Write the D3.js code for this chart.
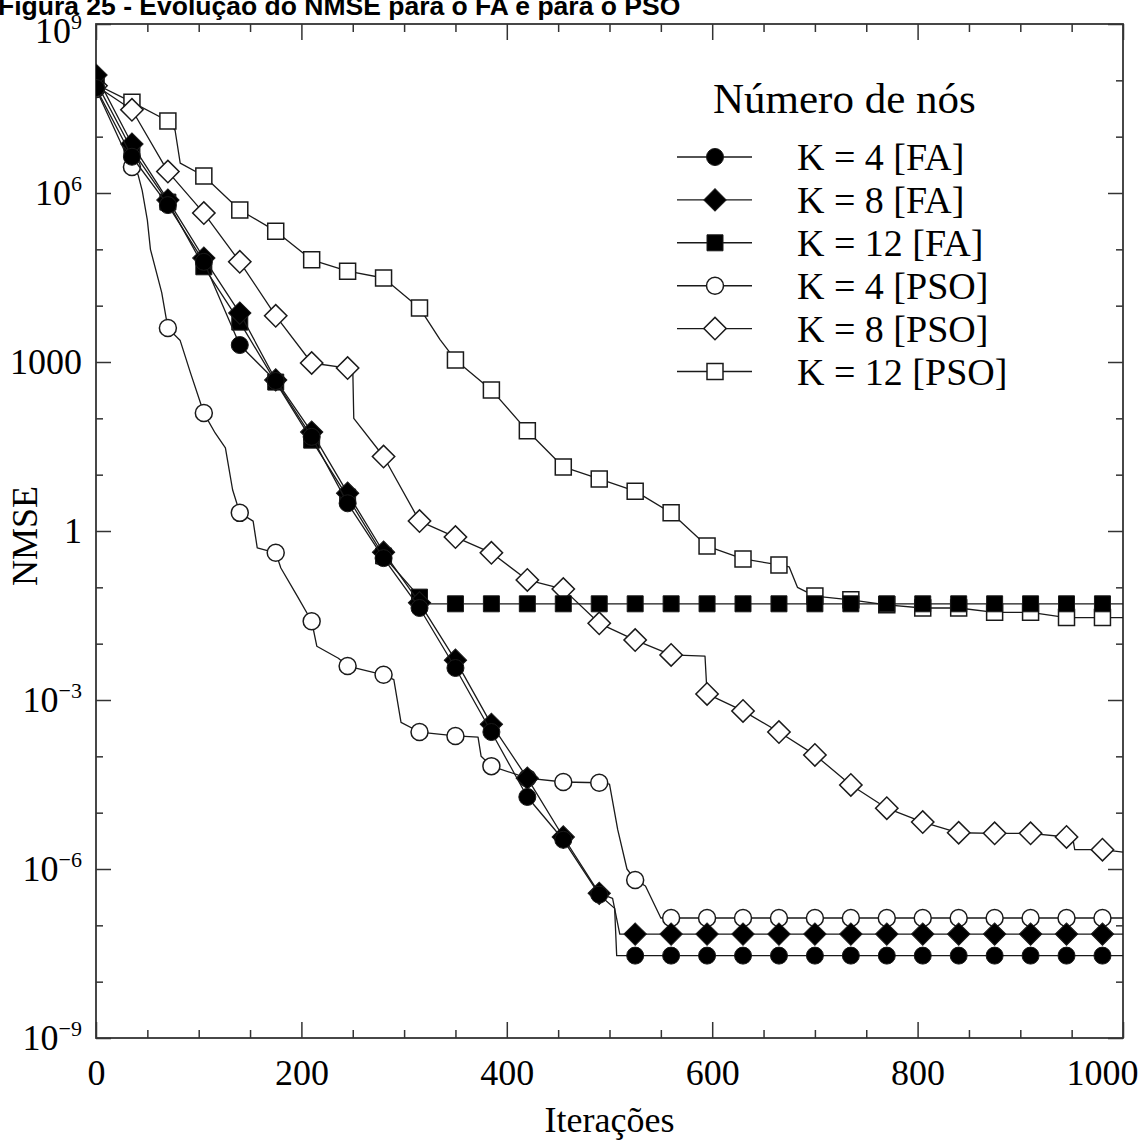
<!DOCTYPE html>
<meta charset="utf-8">
<style>
body { margin: 0; background: #fff; }
text { font-family: "Liberation Serif", "Times New Roman", serif; fill: #000; }
.line { fill: none; stroke: #1a1a1a; stroke-width: 1.3px; stroke-linejoin: round; }
.axis line { stroke: #333; stroke-width: 1.5px; }
.axis .domain { display: none; }
.frame { fill: none; stroke: #333; stroke-width: 1.8px; }
.title { font-family: "Liberation Sans", Arial, sans-serif; font-weight: bold; font-size: 26.5px; }
</style>
<svg width="1140" height="1140"></svg>
<script src="https://cdn.jsdelivr.net/npm/d3@7"></script>

<script>
// iterations where the markers sit
var iters = [0, 35, 70, 105, 140, 175, 210, 245, 280, 315, 350, 385, 420, 455, 490,
             525, 560, 595, 630, 665, 700, 735, 770, 805, 840, 875, 910, 945, 980];

// NMSE at the marker iterations
var fa4 = [7.3e7, 4.4e6, 6.1e5, 6.0e4, 2.0e3, 460, 47, 3.1, 0.33, 0.043, 3.7e-3, 2.7e-4, 1.9e-5, 3.3e-6, 3.5e-7,
           2.9e-8, 2.9e-8, 2.9e-8, 2.9e-8, 2.9e-8, 2.9e-8, 2.9e-8, 2.9e-8, 2.9e-8, 2.9e-8, 2.9e-8, 2.9e-8, 2.9e-8, 2.9e-8];
var fa8 = [1.24e8, 7.4e6, 7.5e5, 7.0e4, 7.4e3, 480, 57, 4.7, 0.42, 0.053, 5.1e-3, 3.7e-4, 4.1e-5, 3.7e-6, 3.7e-7,
           7.0e-8, 7.0e-8, 7.0e-8, 7.0e-8, 7.0e-8, 7.0e-8, 7.0e-8, 7.0e-8, 7.0e-8, 7.0e-8, 7.0e-8, 7.0e-8, 7.0e-8, 7.0e-8];
var fa12 = [9.3e7, 5.8e6, 6.9e5, 4.9e4, 5.1e3, 440, 41, 4.0, 0.36, 0.067,
            0.051, 0.051, 0.051, 0.051, 0.051, 0.051, 0.051, 0.051, 0.051, 0.051,
            0.051, 0.051, 0.051, 0.051, 0.051, 0.051, 0.051, 0.051, 0.051];
var pso4 = [7.0e7, 2.9e6, 4.0e3, 124, 2.1, 0.41, 0.025, 4.0e-3, 2.8e-3, 2.7e-4, 2.3e-4, 6.7e-5, 4.1e-5, 3.5e-5, 3.4e-5,
            6.4e-7, 1.35e-7, 1.35e-7, 1.35e-7, 1.35e-7, 1.35e-7, 1.35e-7, 1.35e-7, 1.35e-7, 1.35e-7, 1.35e-7, 1.35e-7, 1.35e-7, 1.35e-7];
var pso8 = [8.0e7, 3.0e7, 2.4e6, 4.4e5, 6.0e4, 6.6e3, 960, 780, 21, 1.5, 0.78, 0.41, 0.135, 0.093, 0.023,
            0.0116, 0.0063, 1.28e-3, 6.4e-4, 2.7e-4, 1.06e-4, 3.1e-5, 1.2e-5, 6.8e-6, 4.4e-6, 4.3e-6, 4.3e-6, 3.7e-6, 2.2e-6];
var pso12 = [8.5e7, 4.1e7, 1.9e7, 2.0e6, 5.0e5, 2.1e5, 6.5e4, 4.1e4, 3.1e4, 9.1e3, 1.09e3, 320, 60, 13.7, 8.4,
             5.1, 2.1, 0.54, 0.32, 0.25, 0.070, 0.060, 0.049, 0.043, 0.043, 0.036, 0.036, 0.029, 0.029];

// extra vertices of each curve between markers [iteration, NMSE]
var fa4Steps = [[505, 2.0e-7], [507, 2.9e-8], [1000, 2.9e-8]];
var fa8Steps = [[503, 3.0e-7], [510, 7.0e-8], [1000, 7.0e-8]];
var fa12Steps = [[325, 0.051], [1000, 0.051]];
var pso4Steps = [[41, 2.1e6], [45, 1.1e6], [50, 3.3e5], [53, 1.0e5], [64, 1.7e4], [82, 2.4e3], [92, 640],
                 [116, 55], [126, 30], [133, 5.4], [153, 1.5], [157, 0.5], [180, 0.22], [196, 0.07],
                 [215, 0.009], [236, 0.0055], [290, 2.3e-3], [297, 4.0e-4], [372, 2.2e-4], [375, 1.0e-4],
                 [500, 3.2e-5], [508, 5.0e-6], [517, 1.0e-6], [535, 5.0e-7], [550, 1.35e-7], [1000, 1.35e-7]];
var pso8Steps = [[250, 780], [251, 100], [593, 0.006], [951, 3.6e-6], [953, 2.2e-6], [1000, 2.0e-6]];
var pso12Steps = [[77, 1.3e7], [82, 3.4e6], [335, 2.5e3], [675, 0.23], [683, 0.10], [1000, 0.029]];

var names = ["K = 4 [FA]", "K = 8 [FA]", "K = 12 [FA]", "K = 4 [PSO]", "K = 8 [PSO]", "K = 12 [PSO]"];
var legendTitle = "Número de nós";

var xTicks = [0, 200, 400, 600, 800, 1000];
var yTicks = [1e-9, 1e-6, 1e-3, 1, 1000, 1e6, 1e9];
var yTickBase = ["10", "10", "10", "1", "1000", "10", "10"];
var yTickExp = ["\u22129", "\u22126", "\u22123", "", "", "6", "9"];

var series = [
  {name: names[0], values: fa4, steps: fa4Steps, shape: "circle", filled: true},
  {name: names[1], values: fa8, steps: fa8Steps, shape: "diamond", filled: true},
  {name: names[2], values: fa12, steps: fa12Steps, shape: "square", filled: true},
  {name: names[3], values: pso4, steps: pso4Steps, shape: "circle", filled: false},
  {name: names[4], values: pso8, steps: pso8Steps, shape: "diamond", filled: false},
  {name: names[5], values: pso12, steps: pso12Steps, shape: "square", filled: false}
];

var svg = d3.select("svg"),
    margin = {top: 24, right: 17, bottom: 102, left: 96},
    width = +svg.attr("width") - margin.left - margin.right,
    height = +svg.attr("height") - margin.top - margin.bottom;

// figure caption, cut by the top edge as in the scan
svg.append("text")
    .attr("class", "title")
    .attr("x", -2)
    .attr("y", 15)
    .text("Figura 25 - Evolução do NMSE para o FA e para o PSO");

var g = svg.append("g").attr("transform", "translate(" + margin.left + "," + margin.top + ")");

var x = d3.scaleLinear().domain([0, 1000]).range([0, width]);
var y = d3.scaleLog().domain([1e-9, 1e9]).range([height, 0]);

var xMinor = d3.range(0, 1001, 50).filter(function(d) { return d % 200 !== 0; });
var yMinor = d3.range(-9, 10).filter(function(e) { return e % 3 !== 0; })
    .map(function(e) { return Math.pow(10, e); });

// ticks on all four sides, pointing inward
var xAxis = g.append("g").attr("class", "axis").attr("transform", "translate(0," + height + ")")
    .call(d3.axisBottom(x).tickValues(xTicks).tickSize(-16).tickPadding(21).tickFormat(d3.format("d")))
    .attr("font-family", "Liberation Serif").attr("font-size", 36);
// last label pulled inside the page like in the original
xAxis.selectAll(".tick text")
    .filter(function(d) { return d === 1000; })
    .attr("text-anchor", "end")
    .attr("x", 1138 - margin.left - x(1000));
g.append("g").attr("class", "axis").attr("transform", "translate(0," + height + ")")
    .call(d3.axisBottom(x).tickValues(xMinor).tickSize(-8).tickFormat(""));
g.append("g").attr("class", "axis")
    .call(d3.axisTop(x).tickValues(xTicks).tickSize(-16).tickFormat(""));
g.append("g").attr("class", "axis")
    .call(d3.axisTop(x).tickValues(xMinor).tickSize(-8).tickFormat(""));

g.append("g").attr("class", "axis")
    .call(d3.axisLeft(y).tickValues(yTicks).tickSize(-15).tickFormat(""));
g.append("g").attr("class", "axis")
    .call(d3.axisLeft(y).tickValues(yMinor).tickSize(-7).tickFormat(""));
g.append("g").attr("class", "axis").attr("transform", "translate(" + width + ",0)")
    .call(d3.axisRight(y).tickValues(yTicks).tickSize(-15).tickFormat(""));
g.append("g").attr("class", "axis").attr("transform", "translate(" + width + ",0)")
    .call(d3.axisRight(y).tickValues(yMinor).tickSize(-7).tickFormat(""));

// y labels with superscript exponents
var ylab = g.append("g").selectAll("text")
    .data(yTicks)
  .enter().append("text")
    .attr("x", -14)
    .attr("y", function(d) { return Math.max(y(d) + 12, 19); })
    .attr("text-anchor", "end")
    .attr("font-size", 36);
ylab.append("tspan").text(function(d, i) { return yTickBase[i]; });
ylab.append("tspan")
    .attr("dy", -14)
    .attr("font-size", 22)
    .text(function(d, i) { return yTickExp[i]; });

g.append("rect")
    .attr("class", "frame")
    .attr("width", width)
    .attr("height", height);

svg.append("text")
    .attr("x", margin.left + width / 2)
    .attr("y", 1132)
    .attr("text-anchor", "middle")
    .attr("font-size", 36)
    .text("Iterações");

svg.append("text")
    .attr("transform", "translate(37," + 536 + ") rotate(-90)")
    .attr("text-anchor", "middle")
    .attr("font-size", 36)
    .text("NMSE");

g.append("defs").append("clipPath")
    .attr("id", "clip")
  .append("rect")
    .attr("width", width)
    .attr("height", height);

var line = d3.line()
    .x(function(d) { return x(d[0]); })
    .y(function(d) { return y(d[1]); });

var symbolSize = {circle: 227, square: 256, diamond: 250};

function symbolPath(shape) {
  var t = shape === "circle" ? d3.symbolCircle : d3.symbolSquare;
  return d3.symbol().type(t).size(symbolSize[shape])();
}

function styleMarker(sel, s) {
  sel.attr("d", symbolPath(s.shape))
      .attr("fill", s.filled ? "#000" : "#fff")
      .attr("stroke", "#1a1a1a")
      .attr("stroke-width", s.filled ? 1 : 1.5);
}

function markerTransform(px, py, shape) {
  return "translate(" + px + "," + py + ")" + (shape === "diamond" ? " rotate(45)" : "");
}

var plot = g.append("g").attr("clip-path", "url(#clip)");

// PSO first, FA drawn on top
[5, 4, 3, 2, 1, 0].forEach(function(k) {
  var s = series[k];
  var pts = iters.map(function(it, i) { return [it, s.values[i]]; })
      .concat(s.steps)
      .sort(function(a, b) { return a[0] - b[0]; });
  var sg = plot.append("g");
  sg.append("path")
      .datum(pts)
      .attr("class", "line")
      .attr("d", line);
  sg.selectAll("path.mk")
      .data(iters.map(function(it, i) { return [it, s.values[i]]; }))
    .enter().append("path")
      .attr("class", "mk")
      .attr("transform", function(d) { return markerTransform(x(d[0]), y(d[1]), s.shape); })
      .call(styleMarker, s);
});

// legend
var legend = svg.append("g");
legend.append("text")
    .attr("x", 713)
    .attr("y", 113)
    .attr("font-size", 43)
    .text(legendTitle);

var rows = legend.selectAll("g.row")
    .data(series)
  .enter().append("g")
    .attr("class", "row")
    .attr("transform", function(d, i) { return "translate(0," + (157 + i * 42.9) + ")"; });
rows.append("line")
    .attr("x1", 677).attr("x2", 752)
    .attr("stroke", "#1a1a1a")
    .attr("stroke-width", 1.4);
rows.append("path")
    .each(function(d) {
      d3.select(this)
          .attr("transform", markerTransform(715, 0, d.shape))
          .call(styleMarker, d);
    });
rows.append("text")
    .attr("x", 797)
    .attr("y", 13)
    .attr("font-size", 38)
    .text(function(d) { return d.name; });
</script>
